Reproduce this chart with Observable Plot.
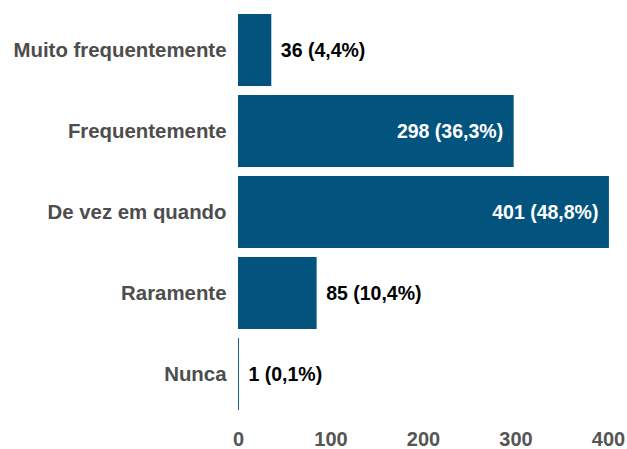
<!DOCTYPE html>
<html>
<head>
<meta charset="utf-8">
<script src="https://cdn.jsdelivr.net/npm/d3@7"></script>
<script src="https://cdn.jsdelivr.net/npm/@observablehq/plot@0.6"></script>
<style>
  html, body { margin: 0; padding: 0; background: #fff; }
  svg { display: block; }
</style>
</head>
<body>
<div id="chart"></div>
<script>
const categories = ["Muito frequentemente", "Frequentemente", "De vez em quando", "Raramente", "Nunca"];
const counts = [36, 298, 401, 85, 1];
const percents = ["4,4%", "36,3%", "48,8%", "10,4%", "0,1%"];
const xTicks = [0, 100, 200, 300, 400];
const insideThreshold = 200;

const data = categories.map((c, i) => ({
  category: c,
  count: counts[i],
  label: `${counts[i]} (${percents[i]})`
}));
const inside = data.filter(d => d.count >= insideThreshold);
const outside = data.filter(d => d.count < insideThreshold);

const font = "'Liberation Sans', Arial, Helvetica, sans-serif";

const chart = Plot.plot({
  width: 627,
  height: 449,
  marginLeft: 238,
  marginRight: 19,
  marginTop: 13,
  marginBottom: 38,
  style: { fontFamily: font, background: "#fff" },
  x: { domain: [0, 400], ticks: xTicks, label: null },
  y: { domain: categories, label: null, paddingInner: 0.11, paddingOuter: 0 },
  marks: [
    Plot.barX(data, { y: "category", x: "count", fill: "#02547f" }),
    Plot.text(outside, {
      y: "category", x: "count", text: "label",
      textAnchor: "start", dx: 9, fill: "#000",
      fontSize: 19.5, fontWeight: "bold"
    }),
    Plot.text(inside, {
      y: "category", x: "count", text: "label",
      textAnchor: "end", dx: -11, fill: "#fff",
      fontSize: 19.5, fontWeight: "bold"
    }),
    Plot.axisX({
      ticks: xTicks, tickSize: 0, tickPadding: 20, label: null,
      fontSize: 20, fontWeight: "bold", color: "#555555"
    }),
    Plot.axisY({
      tickSize: 0, tickPadding: 12, label: null,
      fontSize: 20.4, fontWeight: "bold", color: "#4d4d4d"
    })
  ]
});
document.getElementById("chart").appendChild(chart);
</script>
</body>
</html>
